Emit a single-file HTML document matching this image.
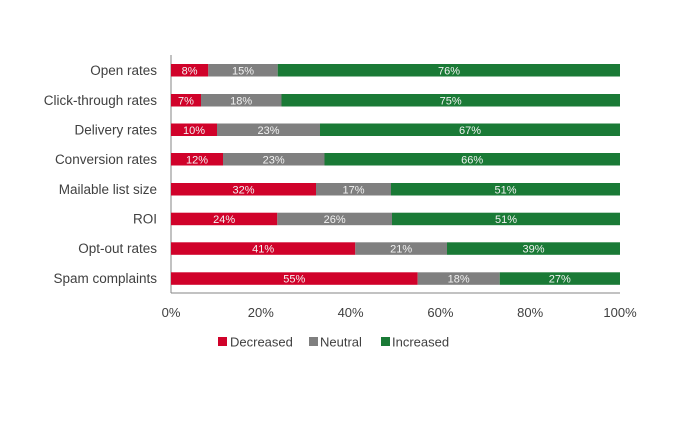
<!DOCTYPE html>
<html><head><meta charset="utf-8">
<style>
html,body{margin:0;padding:0;background:#fff;}
svg{display:block;}
text{font-family:"Liberation Sans",sans-serif;}
</style></head>
<body>
<svg width="688" height="422" viewBox="0 0 688 422" xmlns="http://www.w3.org/2000/svg">
<rect width="688" height="422" fill="#fff"/>
<line x1="171" y1="55" x2="171" y2="293" stroke="#868686" stroke-width="1"/>
<line x1="171" y1="293" x2="620" y2="293" stroke="#868686" stroke-width="1"/>
<g font-size="13" fill="#404040" text-anchor="middle">
<text x="171" y="317">0%</text>
<text x="260.8" y="317">20%</text>
<text x="350.6" y="317">40%</text>
<text x="440.4" y="317">60%</text>
<text x="530.2" y="317">80%</text>
<text x="620" y="317">100%</text>
</g>
<g font-size="13" fill="#404040">
<rect x="218" y="337" width="9" height="9" fill="#d0022a"/>
<text x="230" y="346.5">Decreased</text>
<rect x="309" y="337" width="9" height="9" fill="#7f7f7f"/>
<text x="320" y="346.5">Neutral</text>
<rect x="381" y="337" width="9" height="9" fill="#1a7a36"/>
<text x="392" y="346.5">Increased</text>
</g>
<g font-size="13.5" fill="#404040" text-anchor="end">
<text x="157" y="75">Open rates</text>
<text x="157" y="105">Click-through rates</text>
<text x="157" y="134.5">Delivery rates</text>
<text x="157" y="164">Conversion rates</text>
<text x="157" y="194">Mailable list size</text>
<text x="157" y="223.5">ROI</text>
<text x="157" y="253">Opt-out rates</text>
<text x="157" y="283">Spam complaints</text>
</g>
<g font-size="11" fill="#f2f2f2" text-anchor="middle">
<rect x="171" y="64" width="37.3" height="12.5" fill="#d0022a"/>
<rect x="208.3" y="64" width="69.4" height="12.5" fill="#7f7f7f"/>
<rect x="277.7" y="64" width="342.3" height="12.5" fill="#1a7a36"/>
<text x="189.6" y="74.3">8%</text><text x="243" y="74.3">15%</text><text x="449" y="74.3">76%</text>
<rect x="171" y="94" width="30" height="12.5" fill="#d0022a"/>
<rect x="201" y="94" width="80.5" height="12.5" fill="#7f7f7f"/>
<rect x="281.5" y="94" width="338.5" height="12.5" fill="#1a7a36"/>
<text x="186" y="104.3">7%</text><text x="241.2" y="104.3">18%</text><text x="450.7" y="104.3">75%</text>
<rect x="171" y="123.5" width="46" height="12.5" fill="#d0022a"/>
<rect x="217" y="123.5" width="103" height="12.5" fill="#7f7f7f"/>
<rect x="320" y="123.5" width="300" height="12.5" fill="#1a7a36"/>
<text x="194" y="133.8">10%</text><text x="268.5" y="133.8">23%</text><text x="470" y="133.8">67%</text>
<rect x="171" y="153" width="52" height="12.5" fill="#d0022a"/>
<rect x="223" y="153" width="101.5" height="12.5" fill="#7f7f7f"/>
<rect x="324.5" y="153" width="295.5" height="12.5" fill="#1a7a36"/>
<text x="197" y="163.3">12%</text><text x="273.7" y="163.3">23%</text><text x="472.2" y="163.3">66%</text>
<rect x="171" y="183" width="145" height="12.5" fill="#d0022a"/>
<rect x="316" y="183" width="75" height="12.5" fill="#7f7f7f"/>
<rect x="391" y="183" width="229" height="12.5" fill="#1a7a36"/>
<text x="243.5" y="193.3">32%</text><text x="353.5" y="193.3">17%</text><text x="505.5" y="193.3">51%</text>
<rect x="171" y="212.7" width="106.3" height="12.5" fill="#d0022a"/>
<rect x="277.3" y="212.7" width="114.7" height="12.5" fill="#7f7f7f"/>
<rect x="392" y="212.7" width="228" height="12.5" fill="#1a7a36"/>
<text x="224.2" y="223">24%</text><text x="334.6" y="223">26%</text><text x="506" y="223">51%</text>
<rect x="171" y="242.3" width="184.3" height="12.5" fill="#d0022a"/>
<rect x="355.3" y="242.3" width="91.7" height="12.5" fill="#7f7f7f"/>
<rect x="447" y="242.3" width="173" height="12.5" fill="#1a7a36"/>
<text x="263.2" y="252.6">41%</text><text x="401.2" y="252.6">21%</text><text x="533.5" y="252.6">39%</text>
<rect x="171" y="272.3" width="246.7" height="12.5" fill="#d0022a"/>
<rect x="417.7" y="272.3" width="82" height="12.5" fill="#7f7f7f"/>
<rect x="499.7" y="272.3" width="120.3" height="12.5" fill="#1a7a36"/>
<text x="294.3" y="282.6">55%</text><text x="458.7" y="282.6">18%</text><text x="559.8" y="282.6">27%</text>
</g>
</svg>
</body></html>
